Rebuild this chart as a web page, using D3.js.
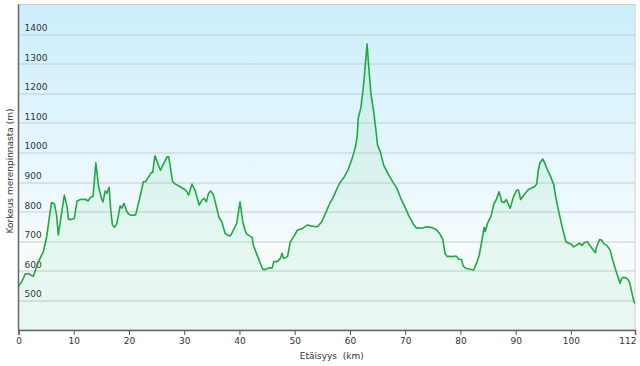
<!DOCTYPE html>
<html>
<head>
<meta charset="utf-8">
<script src="https://cdn.jsdelivr.net/npm/d3@7"></script>
<style>
  body { margin: 0; background: #fff; }
  text { font-family: 'DejaVu Sans', Verdana, sans-serif; fill: #333; }
</style>
</head>
<body>
<div id="chart"></div>
<script>
// distance along the route (km) and elevation (m)
const distances = [
  0, 0.1, 0.6, 1.2, 1.8, 2.1, 2.7, 3.0, 3.5, 3.9,
  4.5, 5.1, 5.6, 6.0, 6.5, 6.9, 7.2, 7.7, 8.3, 8.8,
  9.05, 9.6, 10.1, 10.6, 11.2, 12.1, 12.6, 13.0, 13.5, 14.0,
  14.5, 15.0, 15.3, 15.7, 16.0, 16.4, 16.7, 17.0, 17.4, 17.8,
  18.4, 18.7, 19.1, 19.5, 19.9, 20.4, 21.2, 22.0, 22.6, 23.0,
  23.5, 24.0, 24.3, 24.7, 25.2, 25.7, 26.3, 26.9, 27.2, 27.9,
  28.4, 29.3, 30.1, 30.5, 30.8, 31.4, 32.0, 32.7, 33.2, 33.6,
  34.0, 34.4, 34.8, 35.3, 35.9, 36.3, 36.8, 37.4, 38.0, 38.4,
  38.9, 39.5, 40.1, 40.6, 41.0, 41.3, 42.3, 42.5, 43.2, 43.8,
  44.2, 44.8, 45.3, 45.9, 46.2, 46.9, 47.4, 47.7, 48.0, 48.7,
  49.2, 49.8, 50.5, 51.3, 52.3, 53.1, 54.1, 54.9, 55.7, 56.4,
  56.9, 57.6, 58.2, 59.0, 59.7, 60.4, 61.0, 61.3, 61.5, 62.0,
  62.5, 62.8, 63.1, 63.4, 63.8, 64.3, 64.7, 65.0, 65.5, 66.1,
  67.0, 67.8, 68.5, 69.2, 69.8, 70.6, 71.4, 72.0, 72.4, 73.0,
  73.9, 74.8, 75.6, 76.2, 76.8, 77.2, 77.6, 78.0, 78.6, 79.2,
  79.7, 80.2, 80.5, 81.0, 81.6, 82.4, 82.9, 83.4, 83.9, 84.3,
  84.5, 84.9, 85.5, 86.1, 86.5, 87.0, 87.5, 87.9, 88.3, 89.0,
  89.6, 90.2, 90.5, 90.9, 91.5, 92.3, 92.9, 93.5, 93.8, 94.1,
  94.4, 94.9, 95.3, 95.9, 96.3, 96.9, 97.3, 97.8, 98.2, 98.7,
  99.1, 99.6, 100.0, 100.5, 101.0, 101.6, 102.0, 102.4, 103.0, 103.6,
  104.1, 104.4, 104.7, 105.2, 105.6, 106.0, 106.5, 107.1, 107.7, 108.3,
  108.9, 109.2, 109.6, 110.1, 110.6, 111.0, 111.4, 111.6
]

const elevations = [
  545, 552, 563, 589, 591, 587, 582, 599, 625, 642,
  665, 715, 783, 831, 826, 788, 721, 783, 856, 816,
  774, 774, 777, 836, 841, 842, 836, 848, 852, 965,
  884, 845, 833, 870, 862, 882, 805, 755, 747, 760,
  819, 812, 828, 805, 792, 788, 789, 850, 901, 901,
  916, 931, 933, 989, 963, 940, 963, 985, 985, 901,
  893, 884, 875, 867, 856, 893, 870, 822, 839, 845,
  833, 862, 870, 856, 811, 780, 766, 727, 719, 719,
  738, 760, 833, 766, 738, 724, 713, 687, 653, 625,
  605, 605, 610, 609, 631, 632, 642, 659, 642, 648,
  698, 715, 738, 742, 755, 751, 749, 766, 800, 830,
  845, 875, 898, 918, 943, 980, 1019, 1053, 1115, 1154,
  1233, 1301, 1366, 1289, 1199, 1137, 1075, 1025, 1002, 957,
  924, 899, 879, 845, 822, 788, 760, 745, 745, 744,
  749, 746, 740, 727, 706, 659, 648, 649, 648, 650,
  639, 638, 616, 608, 606, 603, 625, 653, 704, 747,
  733, 760, 783, 828, 841, 867, 833, 831, 841, 811,
  850, 873, 873, 841, 856, 875, 880, 886, 893, 940,
  965, 978, 962, 935, 920, 890, 845, 800, 766, 727,
  698, 693, 691, 681, 687, 693, 686, 695, 698, 681,
  669, 661, 684, 706, 703, 691, 686, 670, 627, 592,
  558, 575, 578, 575, 563, 529, 496, 490
]

const yTicks = [500, 600, 700, 800, 900, 1000, 1100, 1200, 1300, 1400]
const xTicks = [0, 10, 20, 30, 40, 50, 60, 70, 80, 90, 100, 111.6]
const xTickLabels = ['0', '10', '20', '30', '40', '50', '60', '70', '80', '90', '100', '112']

const margin = { top: 4.5, left: 18.5, right: 5, bottom: 36 }
const width = 640 - margin.left - margin.right
const height = 366 - margin.top - margin.bottom

const svg = d3
  .select('#chart')
  .append('svg')
  .attr('width', 640)
  .attr('height', 366)

const defs = svg.append('defs')

const bg = defs
  .append('linearGradient')
  .attr('id', 'bg')
  .attr('x1', 0).attr('y1', 0).attr('x2', 0).attr('y2', 1)
bg.append('stop').attr('offset', '0%').attr('stop-color', '#cbeefb')
bg.append('stop').attr('offset', '75%').attr('stop-color', '#f6fcfe')
bg.append('stop').attr('offset', '100%').attr('stop-color', '#f8fdfd')

const g = svg
  .append('g')
  .attr('transform', `translate(${margin.left},${margin.top})`)

const xScale = d3.scaleLinear().domain([0, 111.6]).range([0, width])
const yScale = d3.scaleLinear().domain([400, 1500]).range([height, 0])

const points = d3.zip(distances, elevations)

g.append('rect')
  .attr('width', width)
  .attr('height', height)
  .attr('fill', 'url(#bg)')
  .attr('stroke', '#cfcfcf')

// grid lines with labels sitting above them
g.selectAll('.grid')
  .data(yTicks)
  .enter()
  .append('line')
  .attr('x1', 0)
  .attr('x2', width)
  .attr('y1', d => Math.round(yScale(d)) + 0.5)
  .attr('y2', d => Math.round(yScale(d)) + 0.5)
  .attr('stroke', '#c4ccd0')

g.selectAll('.ylabel')
  .data(yTicks)
  .enter()
  .append('text')
  .attr('x', 6)
  .attr('y', d => yScale(d) - 3)
  .style('font-size', '9px')
  .text(d => d)

const area = d3
  .area()
  .x(d => xScale(d[0]))
  .y0(height)
  .y1(d => yScale(d[1]))

const line = d3
  .line()
  .x(d => xScale(d[0]))
  .y(d => yScale(d[1]))

g.append('path')
  .datum(points)
  .attr('d', area)
  .attr('fill', '#2ec25a')
  .attr('fill-opacity', 0.08)

g.append('path')
  .datum(points)
  .attr('d', line)
  .attr('fill', 'none')
  .attr('stroke', '#1fa93f')
  .attr('stroke-width', 1.6)
  .attr('stroke-linejoin', 'round')

// axes
const xAxis = d3
  .axisBottom(xScale)
  .tickValues(xTicks)
  .tickFormat((d, i) => xTickLabels[i])
  .tickSizeOuter(0)
  .tickSize(5)

g.append('g')
  .attr('transform', `translate(0,${height})`)
  .call(xAxis)
  .call(a => a.select('.domain').attr('stroke', '#666').attr('stroke-width', 1.5))
  .call(a => a.selectAll('.tick line').attr('stroke', '#555'))
  .call(a => a.selectAll('.tick text')
    .attr('y', 8)
    .style('font-size', '9px')
    .style('font-family', "'DejaVu Sans', Verdana, sans-serif")
    .attr('fill', '#333'))
  // last label sits left of its tick so it stays inside the picture
  .call(a => a.selectAll('.tick:last-of-type text')
    .attr('text-anchor', 'end')
    .attr('x', 1))

g.append('line')
  .attr('x1', 0).attr('x2', 0)
  .attr('y1', 0).attr('y2', height)
  .attr('stroke', '#666')
  .attr('stroke-width', 1.5)

svg.append('text')
  .attr('x', margin.left + width / 2 + 5)
  .attr('y', 359)
  .attr('text-anchor', 'middle')
  .style('font-size', '9px')
  .style('white-space', 'pre')
  .text('Etäisyys  (km)')

svg.append('text')
  .attr('transform', 'translate(13,171) rotate(-90)')
  .attr('text-anchor', 'middle')
  .style('font-size', '9px')
  .text('Korkeus merenpinnasta (m)')
</script>
</body>
</html>
